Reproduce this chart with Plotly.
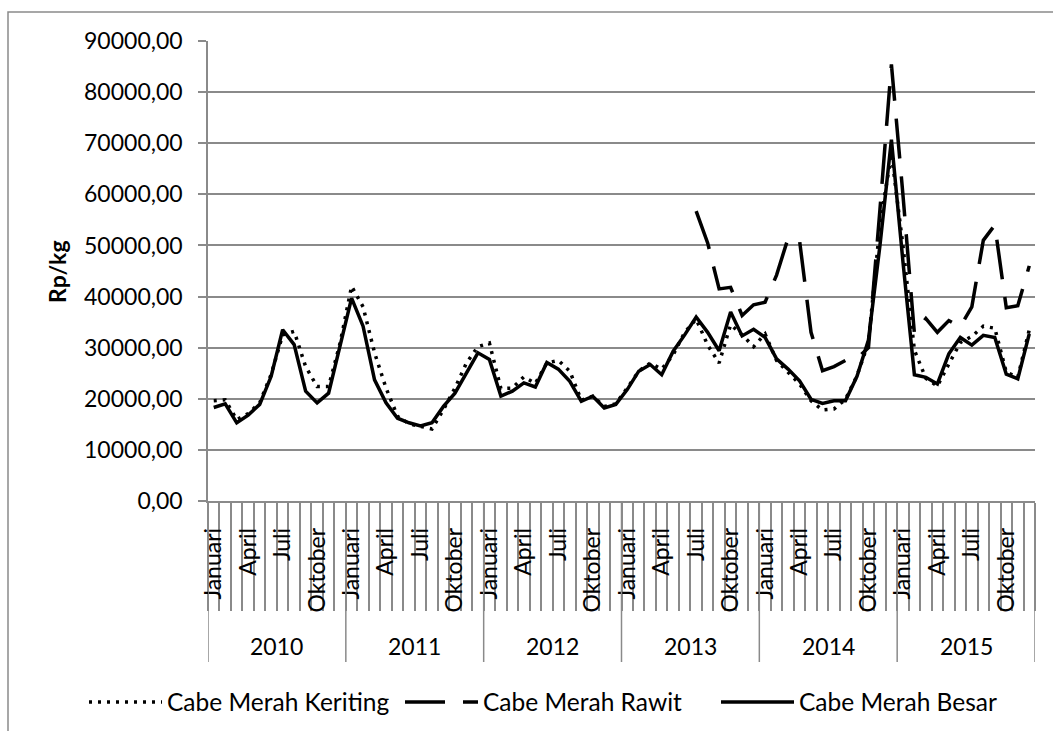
import plotly.graph_objects as go

# ---------------- data ----------------
years = [2010, 2011, 2012, 2013, 2014, 2015]
month_names = ["Januari", "Februari", "Maret", "April", "Mei", "Juni", "Juli",
               "Agustus", "September", "Oktober", "November", "Desember"]
shown_months = ["Januari", "April", "Juli", "Oktober"]

keriting = [19600, 19800, 15900, 17100, 19200, 24800, 32500, 33200, 26300, 22400, 22400, 30900,
            42000, 38000, 29000, 22100, 16600, 15100, 14600, 14100, 17900, 22100, 27000, 30200,
            30900, 22000, 22100, 24300, 23000, 27000, 27500, 25400, 19700, 20500, 18500, 19000,
            22100, 25400, 27000, 25800, 28600, 33000, 35600, 30500, 27000, 34500, 32500, 30200,
            32700, 27500, 25200, 22900, 19600, 17800, 18000, 19900, 24500, 31000, 54000, 68000,
            50000, 29500, 24000, 22500, 26800, 31000, 32200, 34200, 33800, 25200, 24200, 33500]

rawit = [None] * 42 + [
            56700, 50500, 41500, 41800, 36300, 38400,
            38900, 44200, 51400, 51000, 33000, 25500, 26300, 27500, 27900, 30000, 57000, 85400,
            60000, 32800, 35700, 33000, 35300, 34100, 38000, 51000, 54000, 37800, 38200, 46000]

besar = [18300, 19000, 15300, 16800, 18900, 24400, 33500, 30600, 21500, 19200, 21100, 30600,
         39700, 34200, 23700, 19200, 16200, 15300, 14700, 15300, 18500, 21100, 25000, 29000,
         27700, 20500, 21500, 23100, 22300, 27100, 25800, 23400, 19500, 20500, 18200, 18900,
         21800, 25400, 26700, 24700, 29300, 32500, 36000, 33000, 29400, 37000, 32300, 33600,
         32000, 27800, 25800, 23500, 19900, 19100, 19600, 19600, 24400, 31500, 50000, 70700,
         46900, 24700, 24200, 22900, 28800, 32000, 30500, 32400, 32000, 24800, 23900, 32700]

y_title = "Rp/kg"
series_names = ["Cabe Merah Keriting", "Cabe Merah Rawit", "Cabe Merah Besar"]

# ---------------- layout helpers ----------------
W, H = 1053, 731
L, R, T, B = 208, 18, 41, 230
PW, PH = W - L - R, H - T - B

def px_x(px):
    return (px - L) / PW

def px_y(py):
    return (H - B - py) / PH

FONT = "Lato"
FS = 23
GRID = "#8a8a8a"

n = len(years) * len(month_names)
xs = list(range(n))
tickvals = [i for i in xs if month_names[i % 12] in shown_months]
ticktext = [month_names[i % 12] for i in tickvals]
boundaries = [i - 0.5 for i in range(n + 1)]

fig = go.Figure()
fig.add_trace(go.Scatter(x=xs, y=keriting, name=series_names[0], mode="lines",
                         line=dict(color="black", width=3.5, dash="3px,6px")))
fig.add_trace(go.Scatter(x=xs, y=rawit, name=series_names[1], mode="lines",
                         line=dict(color="black", width=3.5, dash="40px,18px")))
fig.add_trace(go.Scatter(x=xs, y=besar, name=series_names[2], mode="lines",
                         line=dict(color="black", width=3.5)))

shapes = []
# chart border (top + left visible)
shapes.append(dict(type="rect", xref="paper", yref="paper",
                   x0=px_x(8), x1=px_x(1070), y0=px_y(760), y1=px_y(12),
                   line=dict(color=GRID, width=1.5), fillcolor="rgba(0,0,0,0)", layer="below"))
# year separators
for k in range(len(years) + 1):
    shapes.append(dict(type="line", xref="x", yref="paper",
                       x0=k * 12 - 0.5, x1=k * 12 - 0.5, y0=0, y1=px_y(662),
                       line=dict(color=GRID, width=1.5)))

annotations = []
for k, yr in enumerate(years):
    annotations.append(dict(x=k * 12 + 5.5, y=px_y(646), xref="x", yref="paper",
                            text=str(yr), showarrow=False, yanchor="middle",
                            font=dict(family=FONT, size=FS, color="black")))
annotations.append(dict(x=px_x(57), y=px_y(272), xref="paper", yref="paper",
                        text="<b>" + y_title + "</b>", textangle=-90, showarrow=False,
                        xanchor="center", yanchor="middle",
                        font=dict(family=FONT, size=FS, color="black")))

fig.update_layout(
    width=W, height=H,
    margin=dict(l=L, r=R, t=T, b=B, pad=0, autoexpand=False),
    paper_bgcolor="white", plot_bgcolor="white",
    separators=",.",
    font=dict(family=FONT, size=FS, color="black"),
    showlegend=True,
    legend=dict(orientation="h", x=px_x(84), xanchor="left", y=px_y(702), yanchor="middle",
                font=dict(family=FONT, size=24.5, color="black"), itemwidth=73,
                entrywidth=228, entrywidthmode="pixels",
                bgcolor="rgba(0,0,0,0)", traceorder="normal"),
    shapes=shapes, annotations=annotations,
)
fig.update_xaxes(range=[-0.5, n - 0.5], showgrid=False, zeroline=False,
                 showline=True, linecolor=GRID, linewidth=1.5,
                 tickmode="array", tickvals=tickvals, ticktext=ticktext, tickangle=-90,
                 ticks="outside", ticklen=16, tickcolor="rgba(0,0,0,0)",
                 tickfont=dict(family=FONT, size=FS, color="black"),
                 minor=dict(tickmode="array", tickvals=boundaries, ticks="outside",
                            ticklen=108, tickcolor=GRID, tickwidth=1.5, showgrid=False))
fig.update_yaxes(range=[0, 90000], dtick=10000, tick0=0, tickformat=".2f",
                 showgrid=True, gridcolor=GRID, gridwidth=1.5, zeroline=False,
                 showline=True, linecolor=GRID, linewidth=1.5,
                 ticks="outside", ticklen=8, tickcolor=GRID, tickwidth=1.5,
                 ticklabelstandoff=11,
                 tickfont=dict(family=FONT, size=FS, color="black"))

fig.write_html("out.html")
